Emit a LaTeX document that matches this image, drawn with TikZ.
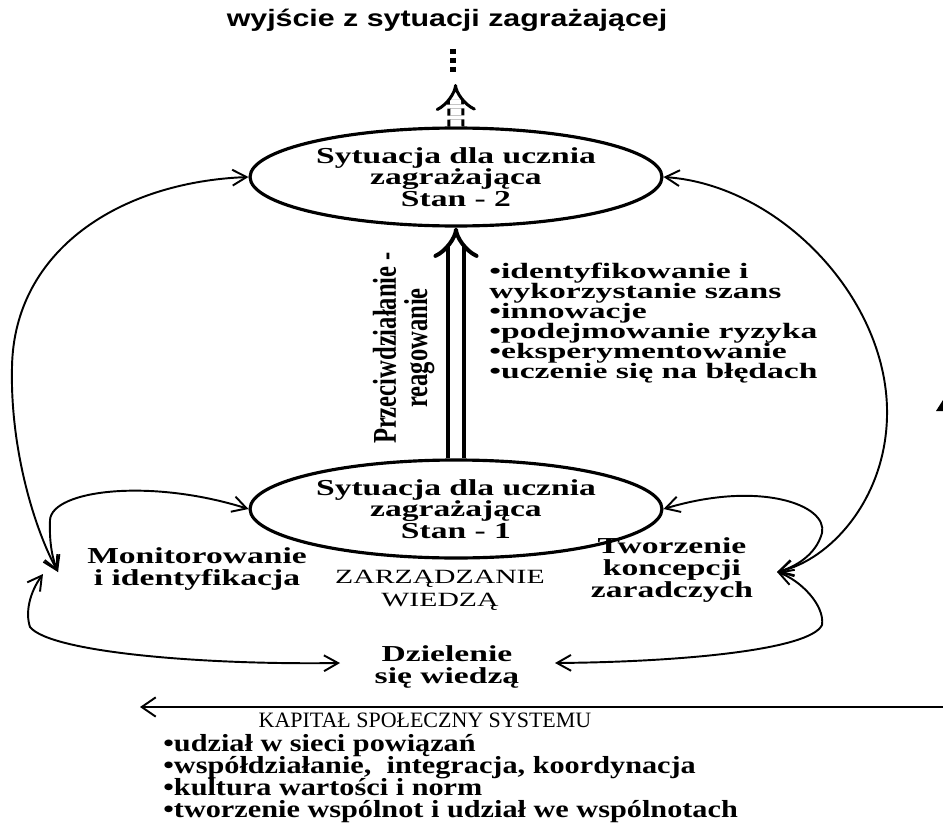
\documentclass[tikz,border=0pt]{standalone}
\usepackage{fontspec}
\usetikzlibrary{shapes.geometric,arrows.meta}
\newfontfamily\serifW[FakeStretch=1.47]{Liberation Serif}
\newfontfamily\serifX[FakeStretch=1.53]{Liberation Serif}
\newfontfamily\serifL[FakeStretch=1.23]{Liberation Serif}
\newfontfamily\sansW[FakeStretch=1.28]{Liberation Sans}
\newfontfamily\serifN{Liberation Serif}
\newcommand\tightlines{\lineskiplimit=-100pt\relax}
\tikzset{
  barb/.tip={Straight Barb[length=8pt,width=9pt,line width=1.1pt]},
  conn/.style={line width=1.1pt, barb-barb},
  ell/.style={ellipse, draw, line width=1.8pt, minimum width=8.24cm, minimum height=1.96cm, inner sep=0pt, align=center,
    font={\serifW\bfseries\fontsize{13}{12.3}\selectfont\tightlines}},
  lbl/.style={align=center, inner sep=0pt, font={\serifW\bfseries\fontsize{13}{12.3}\selectfont\tightlines}},
  lst/.style={align=left, inner sep=0pt, font={\serifX\bfseries\fontsize{12.5}{11.4}\selectfont\tightlines}},
  caps/.style={align=center, inner sep=0pt, font={\serifW\fontsize{11.5}{13}\selectfont\tightlines}},
  dbl/.style={line width=0.08cm, double distance=0.23cm, -{Implies[scale=1.1]}},
}
\begin{document}
\begin{tikzpicture}[x=0.02cm,y=-0.02cm]
\useasboundingbox (0,0) rectangle (943,828);

% title
\node[inner sep=0pt, font=\sansW\bfseries\fontsize{13.5}{14}\selectfont] (title) at (447,20) {wyjście z sytuacji zagrażającej};

% ellipses
\node[ell] (e2) at (456,177) {Sytuacja dla ucznia\\zagrażająca\\Stan - 2};
\node[ell] (e1) at (456,509) {Sytuacja dla ucznia\\zagrażająca\\Stan - 1};

% dotted continuation and dashed double arrow
\coordinate (dtop) at (453,49);
\coordinate (dbot) at (453,74);
\coordinate (up) at (455.5,84);
\draw[line width=0.12cm, dash pattern=on 0.1cm off 0.08cm] (dtop) -- (dbot);
\draw[line width=0.06cm, double distance=0.22cm, dash pattern=on 0.14cm off 0.08cm, -{Implies[scale=1.3]}] (e2.north) -- (up);

% solid double arrow between states
\draw[dbl] (e1.north) -- (e2.south);

% rotated label
\node[rotate=90, inner sep=0pt, font=\serifN\bfseries\fontsize{14}{11.5}\selectfont] (prz) at (404,348)
  {\scalebox{1}[1.35]{\begin{tabular}{@{}c@{}}Przeciwdziałanie -\\reagowanie\end{tabular}}};

% right list
\node[lst, anchor=north west] (list1) at (489,263)
  {•identyfikowanie i\\wykorzystanie szans\\•innowacje\\•podejmowanie ryzyka\\•eksperymentowanie\\•uczenie się na błędach};

% knowledge management labels
\node[lbl] (mon) at (197,569) {Monitorowanie\\i identyfikacja};
\node[caps] (zw) at (440,590) {ZARZĄDZANIE\\WIEDZĄ};
\node[lbl] (tw) at (672,570) {Tworzenie\\koncepcji\\zaradczych};
\node[lbl] (dz) at (447,667) {Dzielenie\\się wiedzą};

\coordinate (mL) at (58,572);
\coordinate (mL2) at (43,574);
\coordinate (mR) at (777,572);
\coordinate (dzL) at (340,663);
\coordinate (dzR) at (555,663);

% left loops
\draw[conn] (e2.west) .. controls (120,182) and (14,250) .. (12,367) .. controls (10,450) and (35,530) .. (mL);
\draw[conn] (e1.west) .. controls (150,478) and (52,490) .. (50,520) .. controls (49,548) and (54,562) .. (mL);
\draw[conn] (mL2) .. controls (30,592) and (25,612) .. (30,627) .. controls (50,652) and (200,665) .. (dzL);

% right loops
\draw[conn] (e2.east) .. controls (780,185) and (890,300) .. (887,417) .. controls (885,500) and (830,560) .. (mR);
\draw[conn] (e1.east) .. controls (760,480) and (828,505) .. (822,533) .. controls (816,555) and (795,567) .. (mR);
\draw[conn] (mR) .. controls (800,580) and (825,605) .. (822,625) .. controls (810,650) and (680,662) .. (dzR);

% social capital arrow
\coordinate (kR) at (943,707);
\coordinate (kL) at (140,707);
\draw[line width=1.5pt, -{Straight Barb[length=8pt,width=11pt,line width=1.1pt]}] (kR) -- (kL);

\node[inner sep=0pt, font=\serifN\fontsize{12.5}{13}\selectfont] (kap) at (425,720) {KAPITAŁ SPOŁECZNY SYSTEMU};

\node[align=left, inner sep=0pt, anchor=north west, font={\serifL\bfseries\fontsize{14}{12.5}\selectfont\tightlines}] (list2) at (163,734)
  {•udział w sieci powiązań\\•współdziałanie,\ \ integracja, koordynacja\\•kultura wartości i norm\\•tworzenie wspólnot i udział we wspólnotach};

% small cut-off mark at the right edge
\fill (936,411) -- (943,400) -- (943,411) -- cycle;
\end{tikzpicture}
\end{document}
